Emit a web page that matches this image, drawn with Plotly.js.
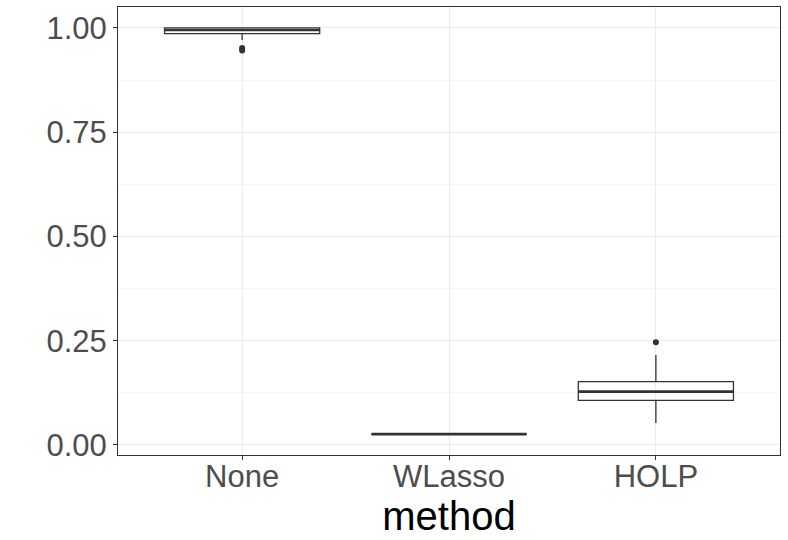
<!DOCTYPE html>
<html><head><meta charset="utf-8">
<script src="https://cdn.plot.ly/plotly-3.0.1.min.js"></script>
<style>body{margin:0;padding:0;background:#fff}#chart{width:788px;height:540px}</style>
</head><body><div id="chart"></div>
<script>
const categories = ["None", "WLasso", "HOLP"];
const q1 = [0.986, 0.026, 0.107];
const medians = [0.995, 0.026, 0.128];
const q3 = [1.0, 0.026, 0.152];
const lowerWhisker = [0.971, 0.026, 0.053];
const upperWhisker = [1.0, 0.026, 0.216];
const outlierCats = ["None", "None", "HOLP"];
const outlierVals = [0.952, 0.946, 0.246];
const yTicks = [0, 0.25, 0.5, 0.75, 1.0];
const yTickLabels = ["0.00", "0.25", "0.50", "0.75", "1.00"];

const FONT = "Liberation Sans, Arial, sans-serif";
const traces = [{
  type: "box",
  x: categories,
  q1: q1, median: medians, q3: q3,
  lowerfence: lowerWhisker, upperfence: upperWhisker,
  fillcolor: "rgba(255,255,255,0)",
  line: {color: "#333333", width: 1.3},
  whiskerwidth: 0,
  width: 0.75,
  boxpoints: false,
  hoverinfo: "skip",
  showlegend: false
}, {
  // thick median line overlay
  type: "box",
  x: categories,
  q1: medians, median: medians, q3: medians,
  lowerfence: medians, upperfence: medians,
  fillcolor: "rgba(255,255,255,0)",
  line: {color: "#333333", width: 2.6},
  whiskerwidth: 0,
  width: 0.75,
  boxpoints: false,
  hoverinfo: "skip",
  showlegend: false
}, {
  type: "scatter", mode: "markers",
  x: outlierCats, y: outlierVals,
  marker: {color: "#333333", size: 6},
  showlegend: false
}];

const layout = {
  width: 788, height: 540,
  margin: {l: 118, r: 8, t: 7, b: 85},
  paper_bgcolor: "#fff", plot_bgcolor: "#fff",
  showlegend: false,
  boxmode: "overlay",
  xaxis: {
    type: "category", categoryarray: categories, categoryorder: "array",
    range: [-0.6, 2.6],
    showgrid: true, gridcolor: "#ebebeb", gridwidth: 1,
    ticks: "outside", ticklen: 4, tickcolor: "#333333",
    ticklabelstandoff: -10,
    tickfont: {family: FONT, size: 31, color: "#4d4d4d"},
    showline: true, linecolor: "#333333", linewidth: 1, mirror: true,
    zeroline: false,
    title: {text: "method", font: {family: FONT, size: 40, color: "#000"}, standoff: 2}
  },
  yaxis: {
    range: [-0.024, 1.050],
    tickvals: yTicks, ticktext: yTickLabels,
    showgrid: true, gridcolor: "#ebebeb", gridwidth: 1,
    minor: {dtick: 0.125, tick0: 0.125, showgrid: true, gridcolor: "#f3f3f3", gridwidth: 0.7},
    ticks: "outside", ticklen: 4, tickcolor: "#333333",
    tickfont: {family: FONT, size: 31, color: "#4d4d4d"},
    showline: true, linecolor: "#333333", linewidth: 1, mirror: true,
    zeroline: false
  }
};
Plotly.newPlot("chart", traces, layout, {displayModeBar: false, staticPlot: true});
</script></body></html>
